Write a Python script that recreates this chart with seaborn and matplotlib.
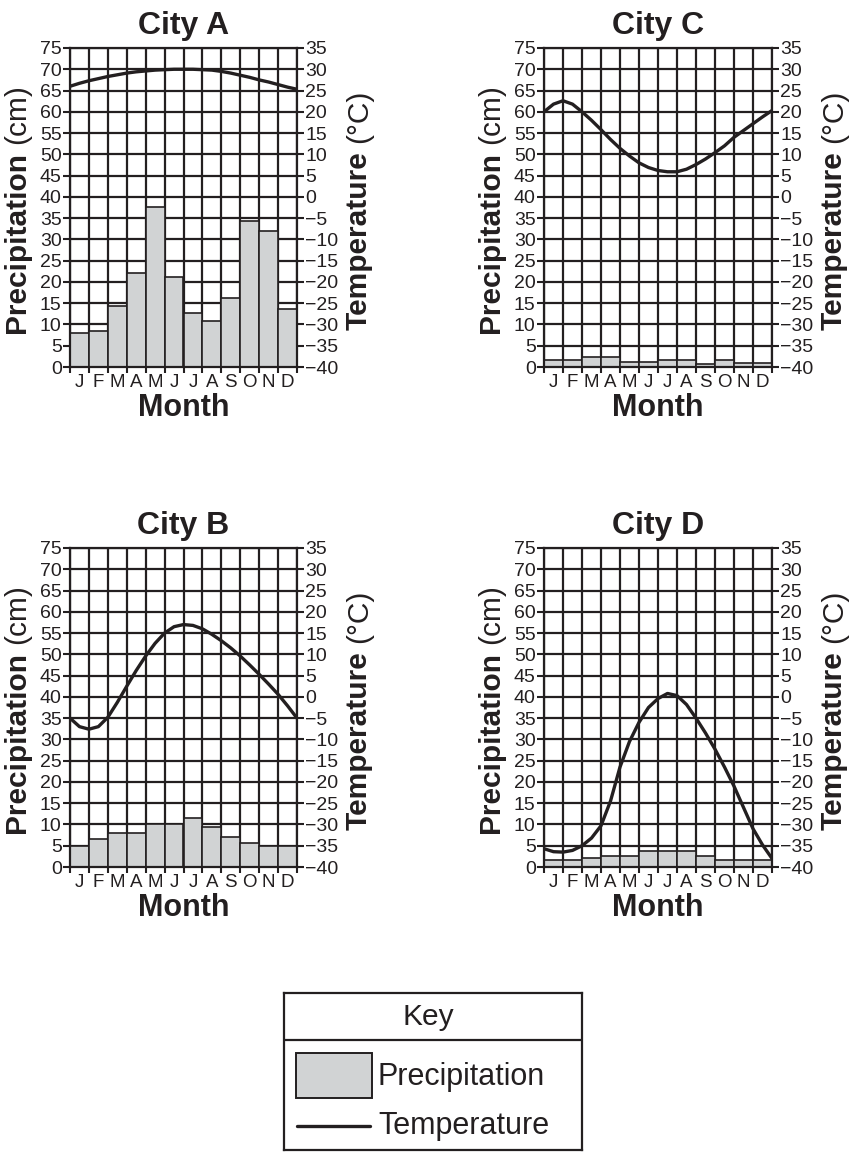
import numpy as np
import matplotlib
matplotlib.use("Agg")
import matplotlib.pyplot as plt
from matplotlib.patches import Rectangle
import seaborn as sns

sns.set_theme(style="white")
plt.rcParams["font.family"] = ["Liberation Sans", "DejaVu Sans"]

months = ["Jan", "Feb", "Mar", "Apr", "May", "Jun",
          "Jul", "Aug", "Sep", "Oct", "Nov", "Dec"]
month_letters = ["J", "F", "M", "A", "M", "J", "J", "A", "S", "O", "N", "D"]

# precipitation (cm), one value per month
precip_a = [8.1, 8.4, 14.3, 22.0, 37.7, 21.2, 12.7, 10.8, 16.3, 34.4, 32.0, 13.7]
precip_b = [5.0, 6.7, 7.9, 7.9, 10.0, 10.0, 11.5, 9.4, 7.1, 5.7, 5.0, 5.0]
precip_c = [1.7, 1.7, 2.4, 2.4, 1.2, 1.2, 1.7, 1.7, 0.8, 1.6, 1.0, 1.0]
precip_d = [1.7, 1.7, 2.2, 2.7, 2.7, 3.8, 3.8, 3.8, 2.5, 1.7, 1.7, 1.7]

# temperature (deg C) read every half month, from start of Jan to end of Dec
temp_months = np.arange(0, 12.5, 0.5)
temp_a = [26.0, 26.7, 27.3, 27.8, 28.3, 28.7, 29.1, 29.4, 29.6, 29.8, 29.9, 30.0, 30.0,
          30.0, 29.9, 29.8, 29.5, 29.1, 28.6, 28.1, 27.5, 27.0, 26.4, 25.8, 25.3]
temp_b = [-5.0, -7.0, -7.6, -7.0, -4.8, -1.3, 2.5, 6.2, 9.6, 12.6, 15.0, 16.5, 17.0,
          16.8, 16.0, 14.7, 13.2, 11.5, 9.6, 7.5, 5.3, 3.0, 0.6, -2.1, -5.0]
temp_c = [20.0, 21.8, 22.6, 21.8, 20.0, 18.0, 15.8, 13.5, 11.4, 9.6, 8.0, 6.9, 6.2,
          5.9, 5.9, 6.5, 7.6, 8.9, 10.4, 12.0, 14.0, 15.6, 17.2, 18.8, 20.3]
temp_d = [-35.7, -36.4, -36.5, -36.1, -35.0, -33.2, -30.3, -24.5, -16.5, -10.5, -6.0, -2.5, -0.4,
          0.8, 0.3, -1.8, -5.0, -8.5, -12.3, -16.5, -21.0, -26.0, -31.0, -34.8, -38.0]

cities = [
    ("City A", precip_a, temp_a, [70, 48, 227, 319]),
    ("City C", precip_c, temp_c, [544, 48, 228, 319]),
    ("City B", precip_b, temp_b, [70, 548, 227, 319]),
    ("City D", precip_d, temp_d, [544, 548, 228, 319]),
]

W, H = 864, 1156
bar_gray = "#d1d3d4"
ink = "#231f20"

fig = plt.figure(figsize=(W / 100, H / 100), dpi=100)


def px_rect(x, y, w, h):
    return [x / W, 1 - (y + h) / H, w / W, h / H]


for name, precip, temp, rect in cities:
    ax = fig.add_axes(px_rect(*rect))
    sns.barplot(x=months, y=precip, color=bar_gray, saturation=1, width=1,
                edgecolor=ink, linewidth=1.2, ax=ax, zorder=2)
    ax.set_xlim(-0.5, 11.5)
    ax.set_ylim(0, 75)
    ax.set_yticks(range(0, 80, 5))
    ax.set_xticks(np.arange(-0.5, 12, 1))
    ax.set_xticklabels([])
    ax.set_xticks(range(12), labels=month_letters, minor=True)
    ax.tick_params(axis="x", which="minor", length=0, pad=5, labelsize=13.5, colors=ink)
    ax.tick_params(axis="x", which="major", length=4, width=1.5, direction="out",
                   color=ink, bottom=True)
    ax.tick_params(axis="y", length=5, width=1.5, direction="out", color=ink,
                   left=True, labelsize=14, pad=1, labelcolor=ink)
    ax.grid(True, which="major", color=ink, linewidth=1.6)
    ax.set_axisbelow(True)
    ax.set_xlabel("")
    ax.set_ylabel("")
    for s in ax.spines.values():
        s.set_color(ink)
        s.set_linewidth(1.6)

    ax2 = ax.twinx()
    sns.lineplot(x=temp_months - 0.5, y=temp, ax=ax2, color=ink, linewidth=2.4)
    ax2.set_xlim(-0.5, 11.5)
    ax2.set_ylim(-40, 35)
    ax2.set_yticks(range(-40, 40, 5))
    ax2.tick_params(axis="y", length=5, width=1.5, direction="out", color=ink,
                    right=True, labelsize=14, pad=1, labelcolor=ink)
    ax2.set_ylabel("")
    for s in ax2.spines.values():
        s.set_visible(False)

    ax.set_title(name, fontsize=23, fontweight="bold", color=ink, pad=10)
    ax.annotate("Month", xy=(0.5, 0), xycoords="axes fraction", xytext=(0, -41),
                textcoords="offset pixels", ha="center", va="center",
                fontsize=22, fontweight="bold", color=ink)

    t1 = ax.annotate("Precipitation", xy=(0, 34 / 319), xycoords="axes fraction",
                     xytext=(-53, 0), textcoords="offset pixels", rotation=90,
                     ha="center", va="bottom", fontsize=21.5, fontweight="bold", color=ink)
    ax.annotate("(cm)", xy=(0.5, 1), xycoords=t1, xytext=(0, 8),
                textcoords="offset pixels", rotation=90, ha="center", va="bottom",
                fontsize=21.5, color=ink)
    t2 = ax.annotate("Temperature", xy=(1, 37 / 319), xycoords="axes fraction",
                     xytext=(62, 0), textcoords="offset pixels", rotation=90,
                     ha="center", va="bottom", fontsize=21.5, fontweight="bold", color=ink)
    ax.annotate("(°C)", xy=(0.5, 1), xycoords=t2, xytext=(0, 8),
                textcoords="offset pixels", rotation=90, ha="center", va="bottom",
                fontsize=21.5, color=ink)

# key box
kx, ky, kw, kh = 284, 993, 298, 157
kax = fig.add_axes(px_rect(kx, ky, kw, kh))
kax.set_xlim(0, kw)
kax.set_ylim(kh, 0)
kax.set_xticks([])
kax.set_yticks([])
for s in kax.spines.values():
    s.set_color(ink)
    s.set_linewidth(1.6)
kax.axhline(47, color=ink, linewidth=1.6)
kax.text(kw / 2 - 5, 24, "Key", ha="center", va="center", fontsize=21.5, color=ink)
kax.add_patch(Rectangle((12, 60), 76, 45, facecolor=bar_gray, edgecolor=ink, linewidth=1.4))
kax.plot([13, 86], [133, 133], color=ink, linewidth=2.4)
kax.text(94, 84, "Precipitation", ha="left", va="center", fontsize=22, color=ink)
kax.text(94, 133, "Temperature", ha="left", va="center", fontsize=22, color=ink)

fig.savefig("out.png", dpi=100)
